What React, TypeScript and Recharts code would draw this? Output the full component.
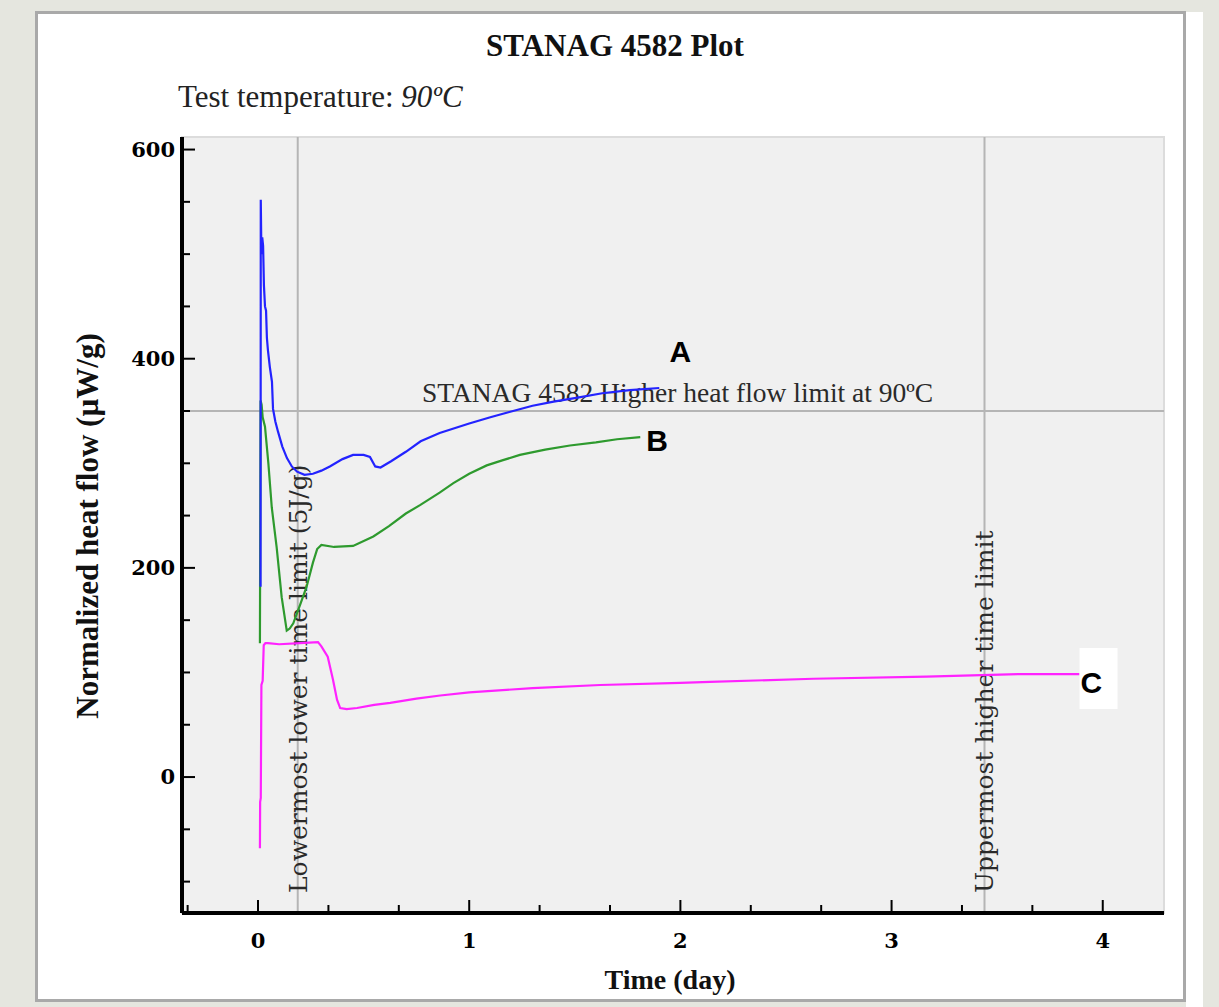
import React from 'react';
import { LineChart, Line, XAxis, YAxis, ReferenceLine, ReferenceArea } from 'recharts';

// ---- data (time in days, normalized heat flow in µW/g) ----
const seriesA = [
  { t: 0.012, v: 182 }, { t: 0.013, v: 552 }, { t: 0.016, v: 500 }, { t: 0.02, v: 516 },
  { t: 0.024, v: 508 }, { t: 0.028, v: 470 }, { t: 0.033, v: 450 }, { t: 0.038, v: 446 },
  { t: 0.042, v: 420 }, { t: 0.047, v: 408 }, { t: 0.056, v: 392 }, { t: 0.066, v: 378 },
  { t: 0.071, v: 352 }, { t: 0.082, v: 340 }, { t: 0.095, v: 330 }, { t: 0.115, v: 316 },
  { t: 0.137, v: 305 }, { t: 0.16, v: 297 }, { t: 0.185, v: 292 }, { t: 0.22, v: 289 },
  { t: 0.26, v: 290 }, { t: 0.3, v: 293 }, { t: 0.34, v: 297 }, { t: 0.4, v: 304 },
  { t: 0.45, v: 308 }, { t: 0.5, v: 308 }, { t: 0.53, v: 306 }, { t: 0.555, v: 297 },
  { t: 0.58, v: 296 }, { t: 0.63, v: 302 }, { t: 0.7, v: 311 }, { t: 0.77, v: 321 },
  { t: 0.86, v: 329 }, { t: 1.0, v: 338 }, { t: 1.1, v: 344 }, { t: 1.19, v: 349 },
  { t: 1.3, v: 355 }, { t: 1.4, v: 359 }, { t: 1.52, v: 363 }, { t: 1.63, v: 367 },
  { t: 1.76, v: 370 }, { t: 1.9, v: 372 },
];

const seriesB = [
  { t: 0.009, v: 128 }, { t: 0.012, v: 360 }, { t: 0.017, v: 356 }, { t: 0.022, v: 344 },
  { t: 0.033, v: 335 }, { t: 0.049, v: 300 }, { t: 0.065, v: 258 }, { t: 0.088, v: 220 },
  { t: 0.112, v: 172 }, { t: 0.136, v: 140 }, { t: 0.15, v: 142 }, { t: 0.167, v: 147 },
  { t: 0.2, v: 165 }, { t: 0.23, v: 182 }, { t: 0.26, v: 205 }, { t: 0.28, v: 218 },
  { t: 0.3, v: 222 }, { t: 0.36, v: 220 }, { t: 0.45, v: 221 }, { t: 0.546, v: 230 },
  { t: 0.62, v: 240 }, { t: 0.7, v: 252 }, { t: 0.767, v: 260 }, { t: 0.86, v: 272 },
  { t: 0.925, v: 281 }, { t: 1.0, v: 290 }, { t: 1.083, v: 298 }, { t: 1.16, v: 303 },
  { t: 1.24, v: 308 }, { t: 1.36, v: 313 }, { t: 1.477, v: 317 }, { t: 1.6, v: 320 },
  { t: 1.7, v: 323 }, { t: 1.81, v: 325 },
];

const seriesC = [
  { t: 0.009, v: -68 }, { t: 0.01, v: -24 }, { t: 0.013, v: -20 }, { t: 0.016, v: 88 },
  { t: 0.022, v: 92 }, { t: 0.027, v: 126 }, { t: 0.035, v: 128 }, { t: 0.047, v: 128 },
  { t: 0.1, v: 127 }, { t: 0.2, v: 128 }, { t: 0.284, v: 129 }, { t: 0.3, v: 125 },
  { t: 0.33, v: 115 }, { t: 0.355, v: 93 }, { t: 0.374, v: 74 }, { t: 0.389, v: 66 },
  { t: 0.42, v: 65 }, { t: 0.469, v: 66 }, { t: 0.55, v: 69 }, { t: 0.626, v: 71 },
  { t: 0.75, v: 75 }, { t: 0.863, v: 78 }, { t: 1.0, v: 81 }, { t: 1.3, v: 85 },
  { t: 1.62, v: 88 }, { t: 2.0, v: 90 }, { t: 2.14, v: 91 }, { t: 2.63, v: 94 },
  { t: 3.165, v: 96 }, { t: 3.61, v: 98.5 }, { t: 3.89, v: 98.5 },
];

const xDomain = [-0.36, 4.29];
const yDomain = [-130, 612];
const xTicks = [-1 / 3, 0, 1 / 3, 2 / 3, 1, 4 / 3, 5 / 3, 2, 7 / 3, 8 / 3, 3, 10 / 3, 11 / 3, 4];
const yTicks = [-100, -50, 0, 50, 100, 150, 200, 250, 300, 350, 400, 450, 500, 550, 600];
const yLabelTicks = [0, 200, 400, 600];

const heatFlowLimit = 350;
const lowerTimeLimit = 0.188;
const upperTimeLimit = 3.44;

const chartTitle = 'STANAG 4582 Plot';
const tempLabel = 'Test temperature: ';
const tempValue = '90ºC';
const xTitle = 'Time (day)';
const yTitle = 'Normalized heat flow (µW/g)';
const limitLabel = 'STANAG 4582 Higher heat flow limit at 90ºC';
const lowerLabel = 'Lowermost lower time limit (5J/g)';
const upperLabel = 'Uppermost higher time limit';

const serif = '"Liberation Serif", "Times New Roman", serif';
const slab = '"DejaVu Serif", serif';
const sans = '"Liberation Sans", Arial, sans-serif';

const XTick = (props: any) => {
  const { x, y, payload } = props;
  const v = payload.value;
  const major = Math.abs(v - Math.round(v)) < 1e-6;
  return (
    <g>
      <line x1={x} x2={x} y1={y} y2={y - (major ? 13 : 8)} stroke="#000" strokeWidth={2} />
      {major && (
        <text x={x} y={y + 35} textAnchor="middle" fontFamily={slab} fontWeight="bold" fontSize={21} fill="#000">
          {Math.round(v)}
        </text>
      )}
    </g>
  );
};

const YTick = (props: any) => {
  const { x, y, payload } = props;
  const v = payload.value;
  const major = yLabelTicks.includes(v);
  return (
    <g>
      <line x1={x} x2={x + (major ? 13 : 8)} y1={y} y2={y} stroke="#000" strokeWidth={2} />
      {major && (
        <text x={x - 7} y={y + 7} textAnchor="end" fontFamily={slab} fontWeight="bold" fontSize={21} fill="#000">
          {v}
        </text>
      )}
    </g>
  );
};

const vLabel = (text: string) => (props: any) => {
  const vb = props.viewBox || {};
  const x = vb.x;
  const yb = vb.y + vb.height;
  return (
    <text transform={`translate(${x + 9},${yb - 20}) rotate(-90)`} fontFamily={slab} fontSize={25} fill="#2a2a2a">
      {text}
    </text>
  );
};

const hLabel = (props: any) => {
  const vb = props.viewBox || {};
  return (
    <text x={vb.x + 240} y={vb.y - 9} fontFamily={serif} fontSize={27.5} fill="#2a2a2a">
      {limitLabel}
    </text>
  );
};

const endLabel = (name: string, count: number, dx: number, dy: number, anchor: string, box?: boolean) => (props: any) => {
  if (props.index !== count - 1) return null;
  const { x, y } = props;
  return (
    <g>
      {box && <rect x={x} y={y - 26} width={38} height={61} fill="#fff" />}
      <text x={x + dx} y={y + dy} textAnchor={anchor} fontFamily={sans} fontWeight="bold" fontSize={30} fill="#000">
        {name}
      </text>
    </g>
  );
};

export default function App() {
  return (
    <div style={{ position: 'absolute', left: 0, top: 0, width: 1219, height: 1007, background: '#e5e6df', overflow: 'hidden' }}>
      <div style={{ position: 'absolute', left: 1186, top: 12, width: 17, height: 995, background: '#fff' }} />
      <div
        style={{
          position: 'absolute', left: 35, top: 11, width: 1151, height: 991,
          border: '3px solid #a9a9a9', boxSizing: 'border-box', background: '#fff',
        }}
      />
      <div style={{ position: 'absolute', left: 0, top: 0 }}>
        <LineChart width={1219} height={1007} margin={{ top: 137, right: 55, bottom: 54, left: 122 }}>
          <ReferenceArea
            x1={xDomain[0]} x2={xDomain[1]} y1={yDomain[0]} y2={yDomain[1]}
            fill="#f0f0f0" fillOpacity={1} stroke="#dcdcdc" strokeWidth={2} ifOverflow="extendDomain"
          />
          <ReferenceLine x={lowerTimeLimit} stroke="#b5b5b5" strokeWidth={2} label={vLabel(lowerLabel)} />
          <ReferenceLine x={upperTimeLimit} stroke="#b5b5b5" strokeWidth={2} label={vLabel(upperLabel)} />
          <ReferenceLine y={heatFlowLimit} stroke="#b5b5b5" strokeWidth={2} label={hLabel} />
          <XAxis
            type="number" dataKey="t" domain={xDomain} ticks={xTicks} interval={0} allowDataOverflow
            height={40} tickSize={0} tickMargin={0} tickLine={false} tick={<XTick />}
            axisLine={{ stroke: '#000', strokeWidth: 4 }}
          />
          <YAxis
            type="number" domain={yDomain} ticks={yTicks} interval={0} allowDataOverflow
            width={60} tickSize={0} tickMargin={0} tickLine={false} tick={<YTick />}
            axisLine={{ stroke: '#000', strokeWidth: 4 }}
          />
          <Line data={seriesC} dataKey="v" type="linear" stroke="#ff22ff" strokeWidth={2.2} dot={false}
            isAnimationActive={false} label={endLabel('C', seriesC.length, 1, 19, 'start', true)} />
          <Line data={seriesB} dataKey="v" type="linear" stroke="#2e9a2e" strokeWidth={2.2} dot={false}
            isAnimationActive={false} label={endLabel('B', seriesB.length, 6, 14, 'start')} />
          <Line data={seriesA} dataKey="v" type="linear" stroke="#2323ff" strokeWidth={2.2} dot={false}
            isAnimationActive={false} label={endLabel('A', seriesA.length, 21, -26, 'middle')} />
        </LineChart>
      </div>
      <svg width={1219} height={1007} style={{ position: 'absolute', left: 0, top: 0, pointerEvents: 'none' }}>
        <text x={615} y={56} textAnchor="middle" fontFamily={serif} fontWeight="bold" fontSize={31} fill="#111">
          {chartTitle}
        </text>
        <text x={178} y={107} fontFamily={serif} fontSize={31} fill="#222">
          {tempLabel}
          <tspan fontStyle="italic">{tempValue}</tspan>
        </text>
        <text x={670} y={989} textAnchor="middle" fontFamily={serif} fontWeight="bold" fontSize={28} fill="#111">
          {xTitle}
        </text>
        <text transform="translate(98,526) rotate(-90)" textAnchor="middle" fontFamily={serif} fontWeight="bold" fontSize={31} fill="#111">
          {yTitle}
        </text>
      </svg>
    </div>
  );
}
